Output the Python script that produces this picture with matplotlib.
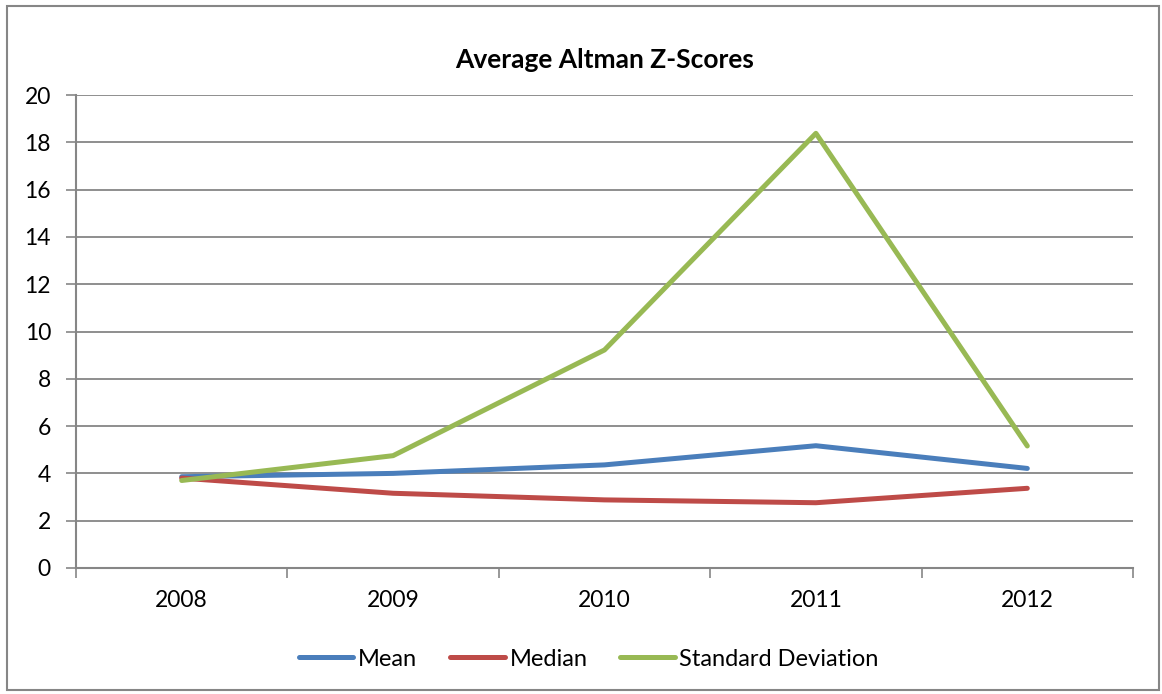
import matplotlib.pyplot as plt
from matplotlib.patches import Rectangle

plt.rcParams['font.family'] = ['Lato', 'DejaVu Sans']

years = ['2008', '2009', '2010', '2011', '2012']
mean = [3.86, 4.0, 4.36, 5.17, 4.21]
median = [3.8, 3.16, 2.88, 2.76, 3.37]
std_dev = [3.7, 4.75, 9.22, 18.38, 5.16]

grey = '#868686'

fig = plt.figure(figsize=(11.62, 6.94), dpi=100)
fig.patches.append(Rectangle((7/1162, 1 - 690/694), 1152/1162, 684/694,
                             transform=fig.transFigure, fill=False,
                             edgecolor=grey, linewidth=1.5))
ax = fig.add_axes([76/1162, 1 - 568/694, (1133-76)/1162, (568-95)/694])

x = range(len(years))
ax.plot(x, mean, color='#4a7ebb', lw=3.6, label='Mean', solid_capstyle='round')
ax.plot(x, median, color='#be4b48', lw=3.6, label='Median', solid_capstyle='round')
ax.plot(x, std_dev, color='#98b954', lw=3.6, label='Standard Deviation', solid_capstyle='round')

ax.set_xlim(-0.5, len(years) - 0.5)
ax.set_ylim(0, 20)
ax.set_yticks(range(0, 21, 2))
ax.set_xticks(x)
ax.set_xticklabels(years)
ax.set_xticks([i - 0.5 for i in range(len(years) + 1)], minor=True)
ax.tick_params(axis='x', which='major', length=0, pad=16, labelsize=16.5)
ax.tick_params(axis='x', which='minor', length=7, width=1.2, color=grey, direction='out')
ax.tick_params(axis='y', length=7, width=1.2, color=grey, pad=11, labelsize=16.5)
ax.yaxis.grid(True, color=grey, lw=1.3)
ax.set_axisbelow(True)
for s in ['top', 'right']:
    ax.spines[s].set_visible(False)
for s in ['left', 'bottom']:
    ax.spines[s].set_color(grey)
    ax.spines[s].set_linewidth(1.5)

fig.text(605/1162, 1 - 60/694, 'Average Altman Z-Scores', ha='center', va='center',
         fontsize=19, fontweight='bold')

fig.legend(loc='center', bbox_to_anchor=(589/1162, 1 - 659/694), ncol=3, frameon=False,
           fontsize=17, handlelength=2.3, columnspacing=1.4, handletextpad=0.2)

fig.savefig('out.png', dpi=100)
